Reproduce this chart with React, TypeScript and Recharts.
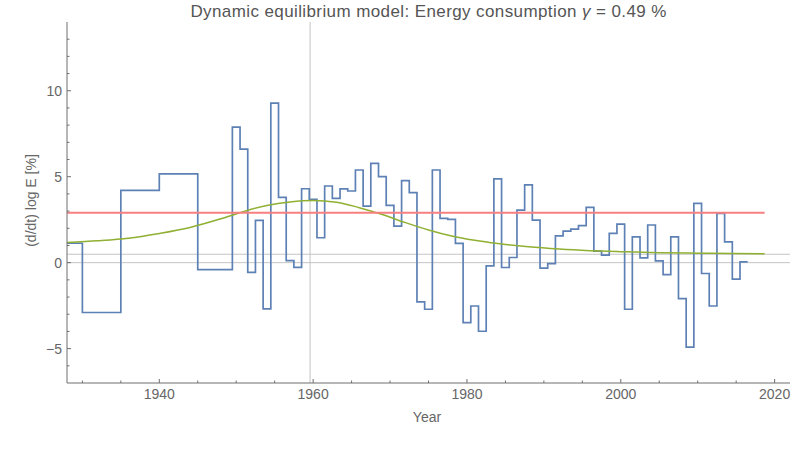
import { Line, LineChart, ReferenceLine, XAxis, YAxis } from "recharts";

// growth rate of energy consumption, early values are 5-year periods
const earlyEdges = [1928, 1930, 1935, 1940, 1945];
const earlyRates = [1.13, -2.9, 4.2, 5.17, -0.41];

const firstAnnualYear = 1950;
const annualRates = [
  7.89, 6.61, -0.56, 2.46, -2.69, 9.28, 3.8, 0.12, -0.27, 4.3,
  3.68, 1.45, 4.46, 3.74, 4.29, 4.17, 5.39, 3.29, 5.78, 5.0,
  3.33, 2.13, 4.77, 4.07, -2.28, -2.71, 5.39, 2.58, 2.52, 1.12,
  -3.49, -2.52, -3.99, -0.19, 4.87, -0.28, 0.3, 3.06, 4.52, 2.48,
  -0.32, -0.05, 1.56, 1.84, 1.95, 2.15, 3.22, 0.67, 0.44, 1.7,
  2.24, -2.71, 1.5, 0.28, 2.19, 0.1, -0.69, 1.5, -2.09, -4.91,
  3.45, -0.63, -2.52, 2.87, 1.21, -0.96, 0.05,
];

// model curve
const modelYears = [
  1928, 1932, 1936, 1940, 1944, 1948, 1951, 1954, 1957, 1960, 1963, 1966, 1969,
  1972, 1975, 1978, 1981, 1984, 1988, 1992, 1996, 2000, 2005, 2010, 2014.5, 2018.7,
];
const modelRates = [
  1.17, 1.27, 1.42, 1.7, 2.05, 2.55, 2.98, 3.33, 3.53, 3.61, 3.52, 3.2, 2.8,
  2.33, 1.9, 1.55, 1.3, 1.11, 0.92, 0.79, 0.7, 0.64, 0.58, 0.55, 0.53, 0.52,
];

const meanRate = 2.9;
const gamma = 0.49;
const shockYear = 1959.6;

const xTicks = [1930, 1935, 1940, 1945, 1950, 1955, 1960, 1965, 1970, 1975, 1980, 1985, 1990, 1995, 2000, 2005, 2010, 2015, 2020];
const xMajor = [1940, 1960, 1980, 2000, 2020];
const yTicks = [-6, -5, -4, -3, -2, -1, 0, 1, 2, 3, 4, 5, 6, 7, 8, 9, 10, 11, 12, 13];
const yMajor = [-5, 0, 5, 10];

const annualYears = annualRates.map((_, i) => firstAnnualYear + i);
const dataSteps = [
  ...earlyEdges.map((year, i) => ({ year, rate: earlyRates[i] })),
  ...annualYears.map((y, i) => ({ year: y - 0.5, rate: annualRates[i] })),
  {
    year: annualYears[annualYears.length - 1] + 0.5,
    rate: annualRates[annualRates.length - 1],
  },
];
const dataModel = modelYears.map((year, i) => ({ year, rate: modelRates[i] }));
const dataMean = [
  { year: modelYears[0], rate: meanRate },
  { year: modelYears[modelYears.length - 1], rate: meanRate },
];

const AXIS = "#6e6e6e";
const LABEL = "#666666";
const FONT = "'Liberation Sans', Arial, sans-serif";

function XTick({ x, y, payload }: any) {
  const major = xMajor.includes(payload.value);
  return (
    <g>
      <line x1={x} x2={x} y1={y} y2={y - (major ? 4 : 2.5)} stroke={AXIS} />
      {major && (
        <text x={x} y={y + 16} textAnchor="middle" fill={LABEL} fontSize={14} fontFamily={FONT}>
          {payload.value}
        </text>
      )}
    </g>
  );
}

function YTick({ x, y, payload }: any) {
  const major = yMajor.includes(payload.value);
  const label = payload.value < 0 ? `\u2212${-payload.value}` : `${payload.value}`;
  return (
    <g>
      <line x1={x} x2={x + (major ? 4 : 2.5)} y1={y} y2={y} stroke={AXIS} />
      {major && (
        <text x={x - 5} y={y + 5} textAnchor="end" fill={LABEL} fontSize={14} fontFamily={FONT}>
          {label}
        </text>
      )}
    </g>
  );
}

export default function App() {
  return (
    <div style={{ position: "relative", width: 792, height: 450, background: "#fff" }}>
      <style>{`html, body { margin: 0; padding: 0; overflow: hidden; }`}</style>
      <LineChart width={792} height={450} margin={{ top: 22, right: 2, bottom: 0, left: 0 }}>
        <XAxis
          type="number"
          dataKey="year"
          domain={[1928, 2022]}
          allowDataOverflow
          ticks={xTicks}
          interval={0}
          tickSize={0}
          tickMargin={0}
          tickLine={false}
          tick={<XTick />}
          axisLine={{ stroke: AXIS }}
          height={67}
        />
        <YAxis
          type="number"
          domain={[-7, 14]}
          allowDataOverflow
          ticks={yTicks}
          interval={0}
          tickSize={0}
          tickMargin={0}
          tickLine={false}
          tick={<YTick />}
          axisLine={{ stroke: AXIS }}
          width={67}
        />
        <ReferenceLine y={0} stroke="#c4c4c4" />
        <ReferenceLine y={gamma} stroke="#c4c4c4" />
        <ReferenceLine x={shockYear} stroke="#c4c4c4" />
        <Line
          data={dataSteps}
          dataKey="rate"
          type="stepAfter"
          stroke="#5E81B5"
          strokeWidth={1.7}
          dot={false}
          activeDot={false}
          isAnimationActive={false}
        />
        <Line
          data={dataModel}
          dataKey="rate"
          type="monotone"
          stroke="#8FB032"
          strokeWidth={1.5}
          dot={false}
          activeDot={false}
          isAnimationActive={false}
        />
        <Line
          data={dataMean}
          dataKey="rate"
          type="linear"
          stroke="#F77F7F"
          strokeWidth={2}
          dot={false}
          activeDot={false}
          isAnimationActive={false}
        />
      </LineChart>
      <svg
        width={792}
        height={450}
        style={{ position: "absolute", left: 0, top: 0, pointerEvents: "none" }}
        fontFamily={FONT}
      >
        <text x={428.6} y={17} textAnchor="middle" fontSize={17} letterSpacing={0.4} fill="#555555">
          Dynamic equilibrium model: Energy consumption <tspan fontStyle="italic">γ</tspan> = 0.49 %
        </text>
        <text x={427} y={421.5} textAnchor="middle" fontSize={14} fill={LABEL}>
          Year
        </text>
        <text
          x={36}
          y={200.5}
          textAnchor="middle"
          fontSize={14}
          fill={LABEL}
          transform="rotate(-90 36 200.5)"
        >
          (d/dt) log E [%]
        </text>
      </svg>
    </div>
  );
}
